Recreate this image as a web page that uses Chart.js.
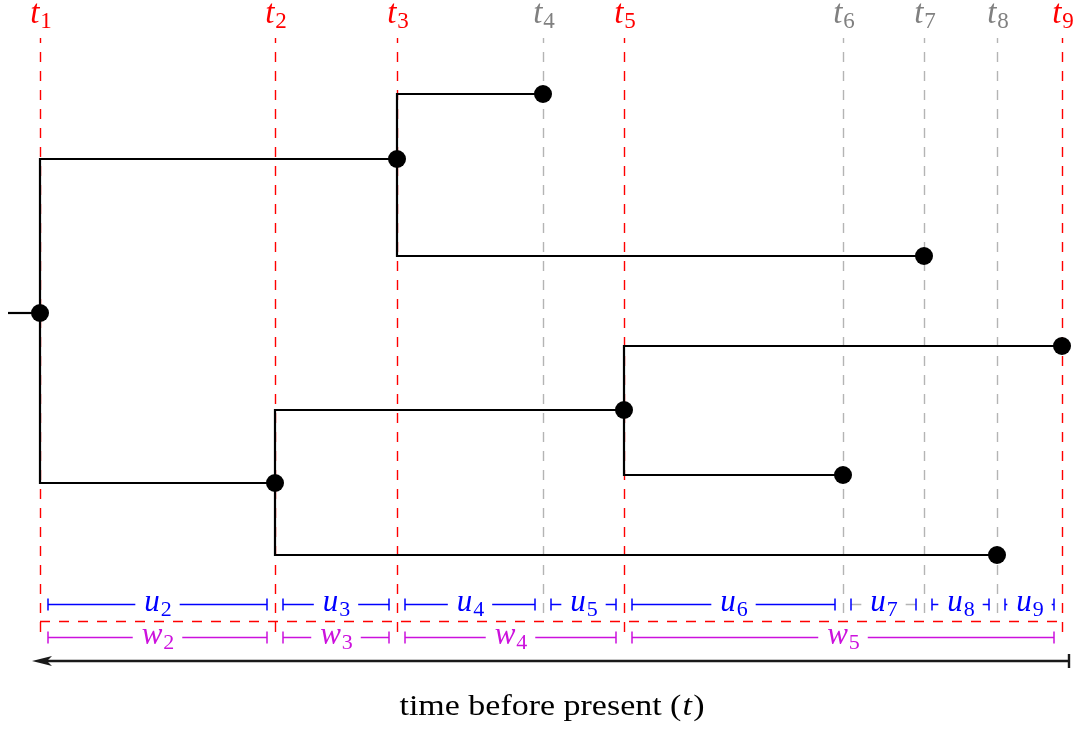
<!DOCTYPE html>
<html>
<head>
<meta charset="utf-8">
<title>Coalescent tree with interval lengths</title>
<script src="https://cdn.jsdelivr.net/npm/chart.js@4/dist/chart.umd.min.js"></script>
<style>
  html, body { margin: 0; padding: 0; background: #fff; }
  canvas { display: block; }
</style>
</head>
<body>
<canvas id="tree" width="1082" height="734"></canvas>
<script>
// event times t1..t9, as time before present (t9 is the present)
const eventTimes = [10.22, 7.87, 6.65, 5.19, 4.38, 2.19, 1.38, 0.65, 0.0];
const eventSubs = ['1', '2', '3', '4', '5', '6', '7', '8', '9'];
// events that bound the w intervals (drawn red), the rest are sampling times (grey)
const epochEvents = [0, 1, 2, 4, 8];

// tree nodes: which event they sit on and their vertical position
const nodeEvent = [0, 2, 1, 4, 3, 6, 8, 5, 7];
const nodeY = [4.21, 5.75, 2.51, 3.24, 6.40, 4.78, 3.88, 2.59, 1.79];
// branches, parent node -> child node
const branchParent = [0, 0, 1, 1, 2, 2, 3, 3];
const branchChild = [1, 2, 4, 5, 3, 8, 6, 7];
// the root branch starts a little before t1
const rootBranchStart = 10.54;

const uSubs = ['2', '3', '4', '5', '6', '7', '8', '9'];
const wSubs = ['2', '3', '4', '5'];
const captionText = 'time before present (';

const SERIF = '"Liberation Serif", "DejaVu Serif", serif';
const RED = '#ff0000';
const GREY_TEXT = '#808080';
const GREY_LINE = '#b4b4b4';
const BLUE = '#0000ff';
const MAGENTA = '#cc11dd';

// elbow branches: along the parent's time line, then across to the child
const branchSets = branchParent.map((p, i) => {
  const c = branchChild[i];
  const px = eventTimes[nodeEvent[p]];
  return {
    data: [
      { x: px, y: nodeY[p] },
      { x: px, y: nodeY[c] },
      { x: eventTimes[nodeEvent[c]], y: nodeY[c] }
    ],
    showLine: true,
    borderColor: '#000',
    borderWidth: 2.2,
    pointRadius: 0,
    order: 1
  };
});
branchSets.push({
  data: [{ x: rootBranchStart, y: nodeY[0] }, { x: eventTimes[0], y: nodeY[0] }],
  showLine: true,
  borderColor: '#000',
  borderWidth: 2.2,
  pointRadius: 0,
  order: 1
});

const nodeSet = {
  data: nodeEvent.map((e, i) => ({ x: eventTimes[e], y: nodeY[i] })),
  pointRadius: 9,
  pointBackgroundColor: '#000',
  pointBorderWidth: 0,
  order: 0
};

// italic letter with an upright subscript, centred on cx
function subText(ctx, main, sub, cx, base, color, size) {
  const mainFont = 'italic ' + size + 'px ' + SERIF;
  const subFont = Math.round(size * 0.7) + 'px ' + SERIF;
  ctx.font = mainFont;
  const mw = ctx.measureText(main).width;
  ctx.font = subFont;
  const sw = ctx.measureText(sub).width;
  const x0 = cx - (mw + sw) / 2;
  ctx.fillStyle = color;
  ctx.textBaseline = 'alphabetic';
  ctx.textAlign = 'left';
  ctx.font = mainFont;
  ctx.fillText(main, x0, base);
  ctx.font = subFont;
  ctx.fillText(sub, x0 + mw + 1, base + size * 0.15);
  return mw + sw;
}

function bracket(ctx, xa, xb, y, lineColor, tickColor, main, sub, size, base) {
  const l = Math.min(xa, xb) + 8, r = Math.max(xa, xb) - 8;
  ctx.setLineDash([]);
  ctx.lineWidth = 1.5;
  ctx.strokeStyle = lineColor;
  ctx.beginPath();
  ctx.moveTo(l, y);
  ctx.lineTo(r, y);
  ctx.stroke();
  ctx.strokeStyle = tickColor;
  ctx.beginPath();
  ctx.moveTo(l, y - 6); ctx.lineTo(l, y + 6);
  ctx.moveTo(r, y - 6); ctx.lineTo(r, y + 6);
  ctx.stroke();
  // white gap behind the label
  ctx.font = 'italic ' + size + 'px ' + SERIF;
  const w = ctx.measureText(main).width + ctx.measureText(sub).width * 0.7 + 18;
  const cx = (l + r) / 2;
  ctx.fillStyle = '#fff';
  ctx.fillRect(cx - w / 2, y - 3, w, 6);
  subText(ctx, main, sub, cx, base, tickColor, size);
}

const decorations = {
  id: 'decorations',
  beforeDatasetsDraw(chart) {
    const ctx = chart.ctx;
    const xs = chart.scales.x;
    const px = v => xs.getPixelForValue(v);
    ctx.save();

    // time lines with their labels
    ctx.lineWidth = 1.4;
    ctx.setLineDash([10, 9]);
    ctx.lineDashOffset = 5;
    eventTimes.forEach((t, i) => {
      const red = epochEvents.includes(i);
      const x = Math.round(px(t)) + 0.5;
      ctx.strokeStyle = red ? RED : GREY_LINE;
      ctx.beginPath();
      ctx.moveTo(x, 38);
      ctx.lineTo(x, red ? 637 : 621);
      ctx.stroke();
      subText(ctx, 't', eventSubs[i], x, 23, red ? RED : GREY_TEXT, 33);
    });

    // epoch line joining the red time lines
    ctx.strokeStyle = RED;
    ctx.lineDashOffset = 0;
    ctx.beginPath();
    ctx.moveTo(px(eventTimes[0]), 621.5);
    ctx.lineTo(px(eventTimes[8]), 621.5);
    ctx.stroke();

    // u intervals between consecutive events
    uSubs.forEach((s, i) => {
      const line = s === '7' ? GREY_LINE : BLUE;
      bracket(ctx, px(eventTimes[i]), px(eventTimes[i + 1]), 604.5, line, BLUE, 'u', s, 31, 611);
    });
    // w intervals between red events
    wSubs.forEach((s, i) => {
      bracket(ctx, px(eventTimes[epochEvents[i]]), px(eventTimes[epochEvents[i + 1]]), 637.5, MAGENTA, MAGENTA, 'w', s, 31, 644);
    });

    // time arrow, pointing into the past
    const ax0 = px(eventTimes[0]) - 8, ax1 = px(eventTimes[8]) + 7, ay = 661;
    ctx.setLineDash([]);
    ctx.strokeStyle = '#1a1a1a';
    ctx.fillStyle = '#1a1a1a';
    ctx.lineWidth = 2.4;
    ctx.beginPath();
    ctx.moveTo(ax1, ay);
    ctx.lineTo(ax0 + 10, ay);
    ctx.moveTo(ax1, ay - 7);
    ctx.lineTo(ax1, ay + 7);
    ctx.stroke();
    ctx.beginPath();
    ctx.moveTo(ax0, ay);
    ctx.lineTo(ax0 + 20, ay - 5);
    ctx.lineTo(ax0 + 15, ay);
    ctx.lineTo(ax0 + 20, ay + 5);
    ctx.closePath();
    ctx.fill();

    // axis caption
    ctx.fillStyle = '#000';
    ctx.textAlign = 'left';
    ctx.textBaseline = 'alphabetic';
    const size = 29;
    ctx.font = size + 'px ' + SERIF;
    const w1 = ctx.measureText(captionText).width;
    const wc = ctx.measureText(')').width;
    ctx.font = 'italic ' + size + 'px ' + SERIF;
    const wt = ctx.measureText('t').width + 2;
    const total = w1 + wt + wc;
    const stretch = 305 / total;
    ctx.translate(552 - 305 / 2, 715);
    ctx.scale(stretch, 1);
    ctx.font = size + 'px ' + SERIF;
    ctx.fillText(captionText, 0, 0);
    ctx.font = 'italic ' + size + 'px ' + SERIF;
    ctx.fillText('t', w1 + 1, 0);
    ctx.font = size + 'px ' + SERIF;
    ctx.fillText(')', w1 + wt, 0);

    ctx.restore();
  }
};

new Chart(document.getElementById('tree'), {
  type: 'scatter',
  data: { datasets: [nodeSet].concat(branchSets) },
  options: {
    responsive: false,
    devicePixelRatio: 1,
    animation: false,
    events: [],
    layout: { padding: 0, autoPadding: false },
    plugins: { legend: { display: false }, tooltip: { enabled: false } },
    elements: { line: { tension: 0 } },
    clip: false,
    scales: {
      x: { type: 'linear', reverse: true, min: -0.2, max: 10.62, display: false },
      y: { type: 'linear', min: 0, max: 7.34, display: false }
    }
  },
  plugins: [decorations]
});
</script>
</body>
</html>
